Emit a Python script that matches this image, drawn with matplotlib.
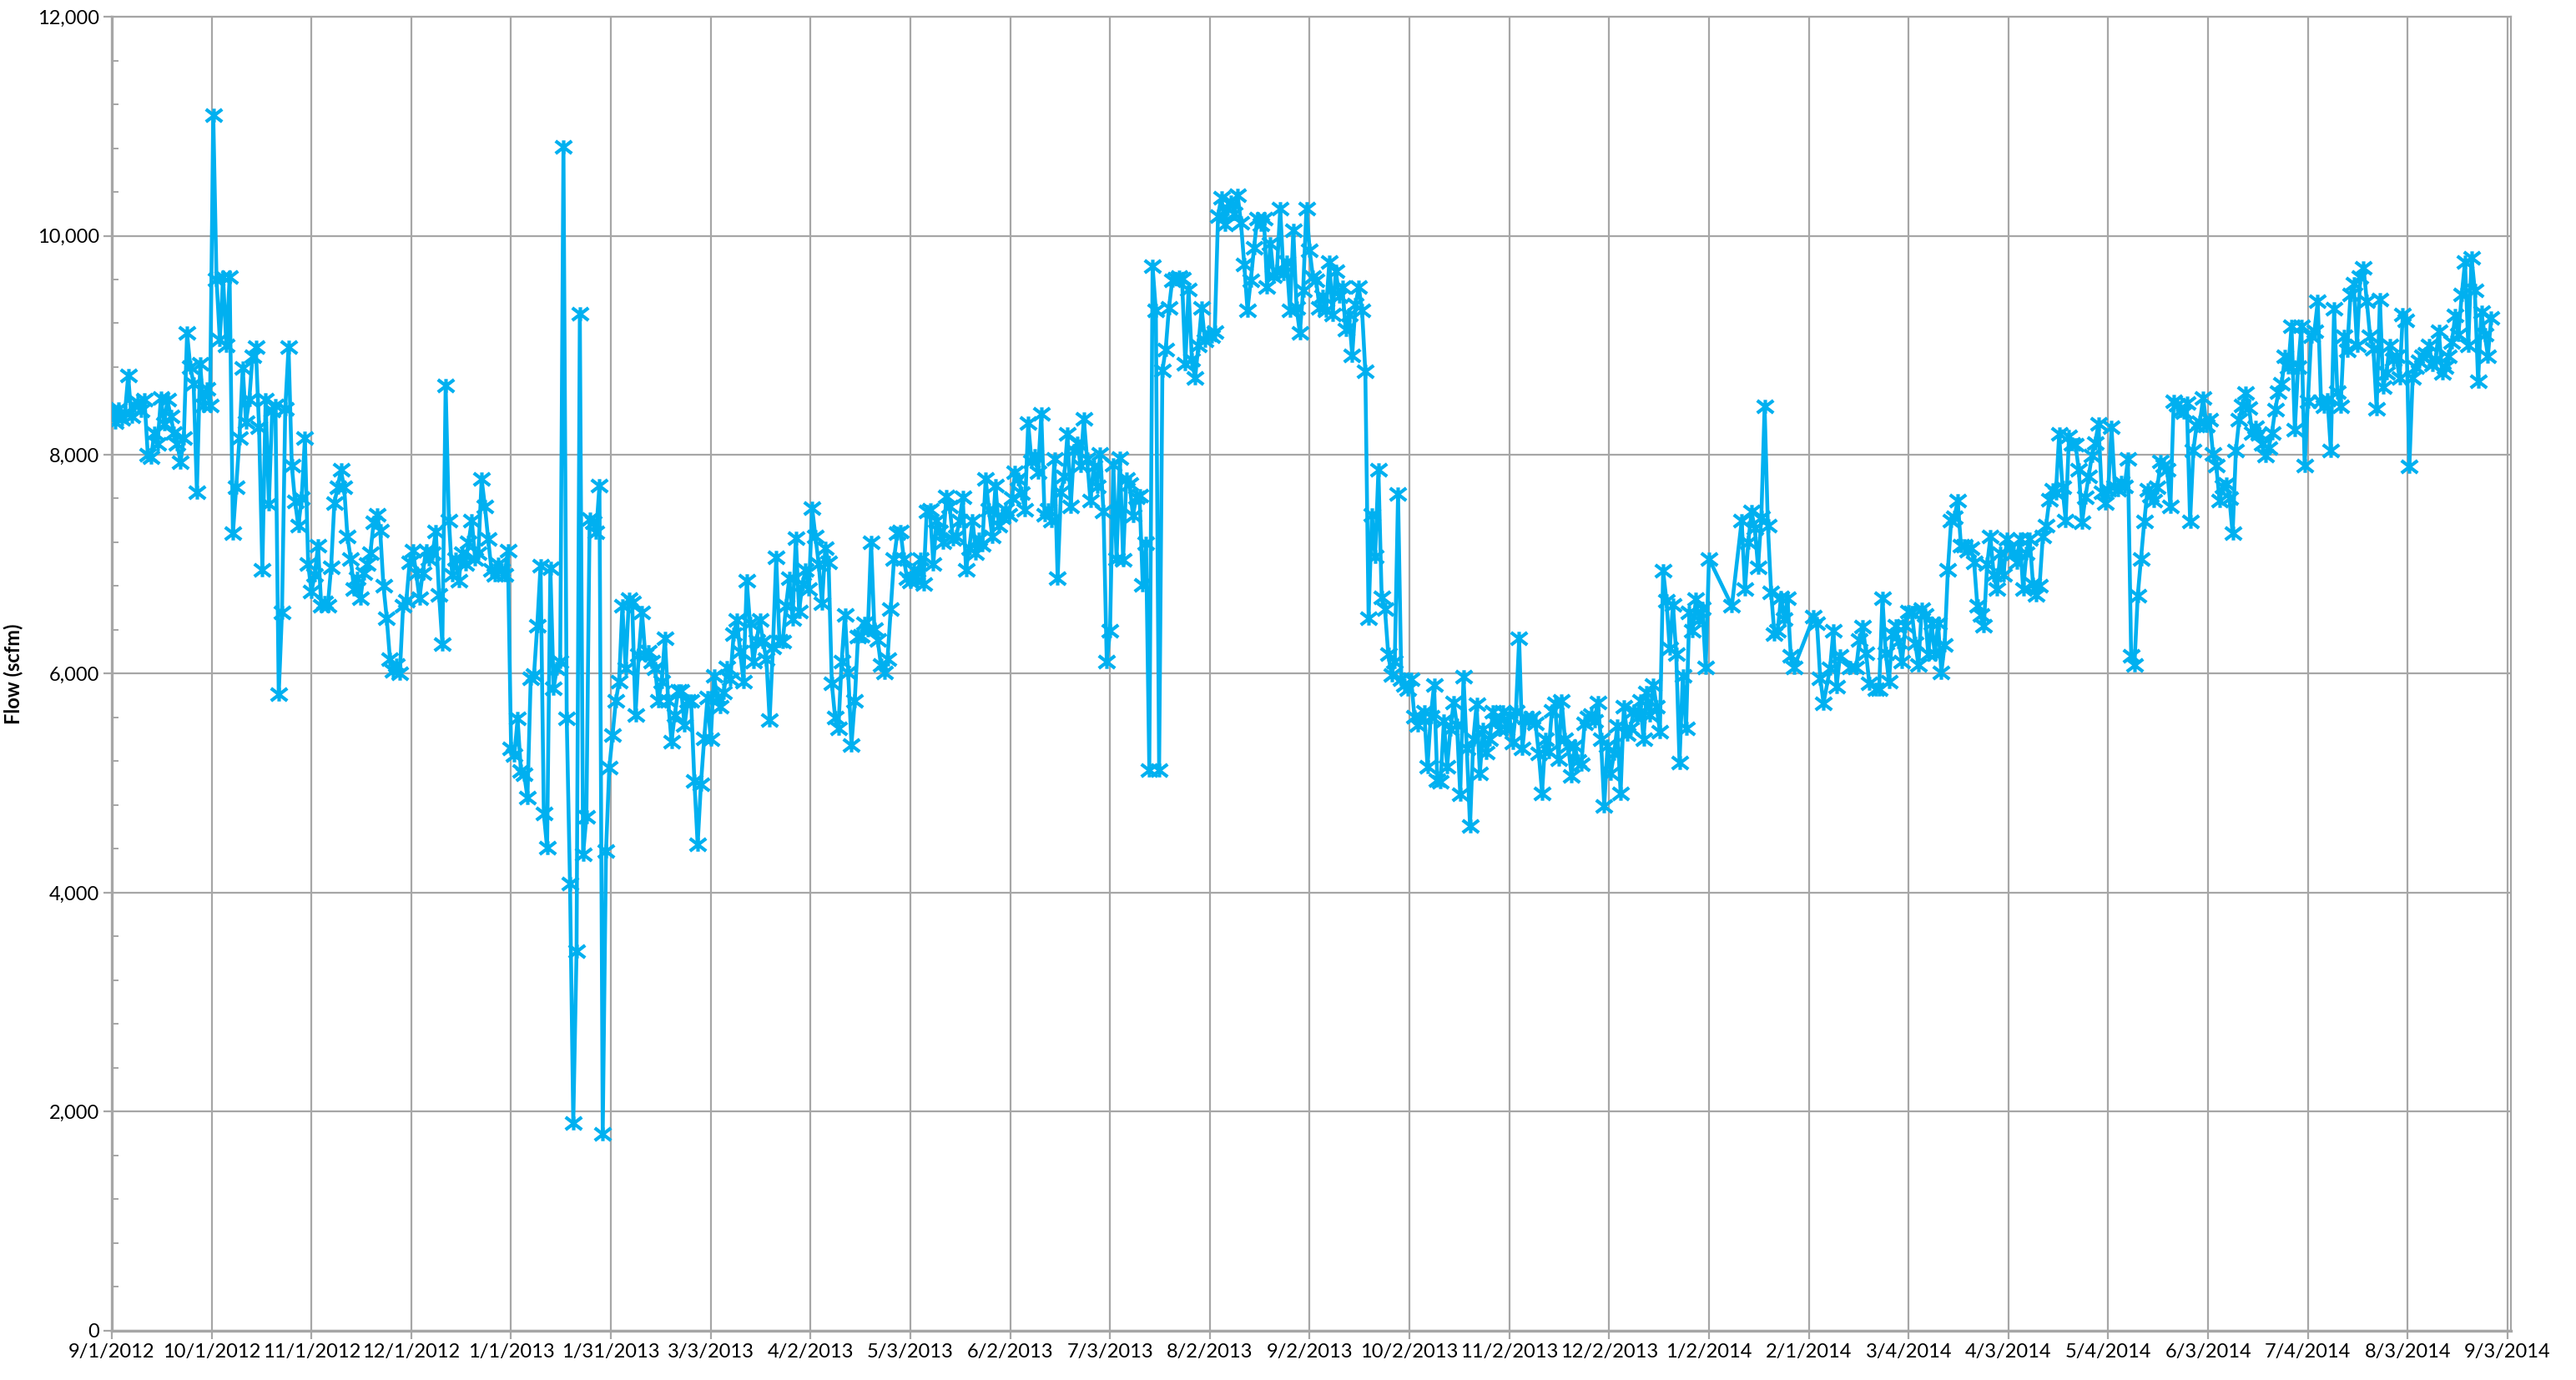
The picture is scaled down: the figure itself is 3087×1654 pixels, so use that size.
import numpy as np
import pandas as pd
import matplotlib
matplotlib.use("Agg")
import matplotlib.pyplot as plt
import matplotlib.dates as mdates
from matplotlib.path import Path
from matplotlib.ticker import FuncFormatter, MultipleLocator

# daily flow readings (scfm), one list per month, None = no reading
sep12 = [8400, 8300, 8420, 8330, 8380, 8720, 8350, 8450, 8480, 8400, 8500, 8000, 7980, 8200, 8100,
         8520, 8280, 8500, 8350, 8200, 8100, 7930, 8150, 9110, 8800, 8650, 7660, 8830, 8450, 8600]
oct12 = [8450, 11100, 9600, 9050, 9620, 9000, 9620, 7280, 7700, 8150, 8790, 8300, 8500, 8900, 8980,
         8250, 6950, 8500, 7550, 8400, 8450, 5810, 6560, 8420, 8980, 7900, 7570, 7350, 7600, 8150, 7000]
nov12 = [6750, 6900, 7170, 6620, 6650, 6620, 6970, 7560, 7700, 7860, 7700, 7250, 7050, 6770, 6870,
         6690, 6920, 7000, 7100, 7380, 7450, 7310, 6800, 6510, 6130, 6030, 6080, 6000, 6620, 6670]
dec12 = [7020, 7120, 6920, 6690, 6920, 7120, 7050, 7100, 7300, 6720, 6270, 8630, 7400, 6900, 7050,
         6850, 7100, 7000, 7200, 7400, 7050, 7100, 7780, 7530, 7230, 6950, 6900, 7000, 6950, 6900, 7120]
jan13 = [5320, 5260, 5590, 5110, 5080, 4870, 5960, 5990, 6440, 6990, 4720, 4410, 6960, 5870, 6050,
         6110, 10810, 5590, 4080, 1900, 3470, 9290, 4350, 4690, 7410, 7380, 7290, 7720, 1800, 4380, 5140]
feb13 = [5440, 5750, 5930, 6620, 6050, 6680, 6650, 5620, 6170, 6560, 6170, 6200, 6110, 6050, 5750,
         5930, 6320, 5750, 5380, 5620, 5840, 5840, 5530, 5750, 5750, 5020, 4440, 4990]
mar13 = [5410, 5780, 5400, 5980, 5780, 5700, 5830, 6060, 5950, 6360, 6490, 6200, 5930, 6850, 6460,
         6110, 6300, 6490, 6290, 6130, 5580, 6240, 7060, 6300, 6290, 6620, 6870, 6500, 7240, 6570, 6820]
apr13 = [6950, 6770, 7510, 7250, 7000, 6640, 7150, 7020, 5910, 5600, 5500, 6110, 6540, 6010, 5350,
         5750, 6340, 6350, 6460, 6400, 7200, 6410, 6310, 6080, 6010, 6130, 6590, 7050, 7280, 7300]
may13 = [7050, 6870, 6840, 6950, 6850, 7050, 6820, 7480, 7500, 7000, 7400, 7300, 7200, 7620, 7530,
         7230, 7250, 7400, 7610, 6950, 7150, 7400, 7100, 7230, 7180, 7780, 7500, 7250, 7720, 7350, 7430]
jun13 = [7500, 7450, 7600, 7840, 7780, 7650, 7500, 8290, 7940, 7990, 7840, 8370, 7450, 7500, 7400,
         7960, 6870, 7660, 7800, 8190, 7530, 8040, 8110, 7900, 8330, 7960, 7580, 7890, 7710, 8010]
jul13 = [7480, 6110, 6390, 7910, 7050, 7970, 7040, 7780, 7730, 7440, 7610, 7630, 6810, 7190, 5120,
         9720, 9320, 5120, 8770, 8960, 9340, 9590, 9610, 9620, 9610, 8830, 9510, 8870, 8700, 9000, 9340]
aug13 = [9040, 9100, 9080, 9120, 10180, 10350, 10100, 10250, 10310, 10200, 10370, 10120, 9740, 9320, 9590,
         9890, 10160, 10100, 10160, 9530, 9930, 9630, 9680, 10250, 9650, 9760, 9320, 10050, 9340, 9110, 9500]
sep13 = [10250, 9870, 9620, 9590, 9340, 9450, 9320, 9760, 9280, 9680, 9450, 9530, 9140, 9280, 8910,
         9370, 9530, 9320, 8760, 6510, 7450, 7070, 7860, 6700, 6590, 6180, 5990, 6110, 7640, 5950]
oct13 = [5900, 5860, 5950, 5610, 5530, 5600, 5650, 5150, 5610, 5900, 5030, 5010, 5570, 5150, 5490,
         5740, 5530, 4900, 5970, 5320, 4610, 5400, 5720, 5090, 5490, 5280, 5400, 5650, 5560, 5490, 5650]
nov13 = [5490, 5620, 5370, 5650, 6320, 5320, 5600, 5570, 5600, 5550, 5270, 4910, 5400, 5290, 5660,
         5730, 5220, 5750, 5400, 5340, 5070, 5340, 5200, 5170, 5550, 5600, 5620, 5570, 5740, 5400]
dec13 = [4790, 5340, 5090, 5270, 5520, 4910, 5700, 5450, 5500, 5660, 5600, 5750, 5400, 5830, 5620,
         5900, 5700, 5470, 6940, 6670, 6230, 6630, 6180, 5190, 5980, 5500, 6560, 6390, 6680, 6490, 6600]
jan14 = [6060, 7050, None, None, None, None, None, None, 6620, None, None, 7400, 6770, 7200, 7480,
         7330, 6970, 7430, 8440, 7350, 6740, 6360, 6390, 6700, 6500, 6690, 6160, 6060, None, None, None]
feb14 = [None, None, 6520, 6460, 5960, 5730, None, 6050, 6390, 5880, 6160, None, None, 6060, None,
         6060, 6310, 6430, 6190, 5910, None, 5860, 5860, 6690, 6190, 5930, 6360, 6440]
mar14 = [6290, 6110, 6440, 6570, 6560, 6280, 6080, 6590, 6540, 6180, 6460, 6180, 6460, 6010, 6260,
         6950, 7400, 7430, 7580, 7170, 7170, 7120, 7150, 7020, 6620, 6540, 6440, 7000, 7250, 6900, 6770]
apr14 = [7100, 6900, 7230, 7150, 7100, 7020, 7230, 6770, 7100, 7230, 6820, 6720, 6800, 7250, 7350,
         7590, 7680, 7650, 8190, 7700, 7400, 8170, 8100, 8090, 7860, 7380, 7610, 7800, 7990, 8110]
may14 = [8280, 7660, 7560, 7680, 8250, 7710, 7680, 7750, 7710, 7960, 6160, 6080, 6710, 7050, 7390,
         7680, 7630, 7580, 7700, 7940, 7900, 7860, 7530, 8490, 8460, 8400, 8390, 8470, 7390, 8040, 8270]
jun14 = [8300, 8520, 8270, 8320, 8010, 7900, 7580, 7710, 7730, 7600, 7280, 8040, 8320, 8450, 8560,
         8430, 8200, 8250, 8190, 8100, 7990, 8060, 8200, 8410, 8570, 8650, 8900, 8800, 9170, 8230]
jul14 = [8800, 9170, 7900, 8490, 9080, 9130, 9400, 8490, 8440, 8500, 8040, 9330, 8570, 8440, 9080,
         8950, 9460, 9560, 9000, 9620, 9710, 9400, 9080, 8970, 8420, 9420, 8620, 8750, 9000, 8870, 8900]
aug14 = [8700, 9280, 9230, 7890, 8700, 8800, 8850, 8900, 8920, 9000, 8820, 8870, 9130, 8750, 8800,
         8900, 9030, 9270, 9100, 9460, 9760, 9000, 9800, 9500, 8670, 9300, 9100, 8900, 9250]

months = [("2012-09-01", sep12), ("2012-10-01", oct12), ("2012-11-01", nov12), ("2012-12-01", dec12),
          ("2013-01-01", jan13), ("2013-02-01", feb13), ("2013-03-01", mar13), ("2013-04-01", apr13),
          ("2013-05-01", may13), ("2013-06-01", jun13), ("2013-07-01", jul13), ("2013-08-01", aug13),
          ("2013-09-01", sep13), ("2013-10-01", oct13), ("2013-11-01", nov13), ("2013-12-01", dec13),
          ("2014-01-01", jan14), ("2014-02-01", feb14), ("2014-03-01", mar14), ("2014-04-01", apr14),
          ("2014-05-01", may14), ("2014-06-01", jun14), ("2014-07-01", jul14), ("2014-08-01", aug14)]

parts = []
for start, vals in months:
    idx = pd.date_range(start, periods=len(vals), freq="D")
    parts.append(pd.Series(vals, index=idx, dtype=float))
flow = pd.concat(parts).dropna()

plt.rcParams["font.family"] = ["Lato", "DejaVu Sans"]

# Excel-style "star" marker: a wide X with a vertical stroke
star = Path([(-1.3, -1), (1.3, 1), (-1.3, 1), (1.3, -1), (0, -1.1), (0, 1.1)],
            [Path.MOVETO, Path.LINETO] * 3)

fig = plt.figure(figsize=(30.87, 16.54), dpi=100)
ax = fig.add_axes([0.0434, 0.0357, 0.9313, 0.9522])

blue = "#00B0F0"
ax.plot(flow.index, flow.values, color=blue, lw=3.3, marker=star, ms=14,
        mec=blue, mew=3.0, zorder=3)

# date axis: Excel major unit of 30.5 days from 9/1/2012
x0 = mdates.date2num(pd.Timestamp("2012-09-01"))
ticks = [x0 + 30.5 * k for k in range(25)]
ax.set_xlim(x0, x0 + 733)
ax.set_xticks(ticks)


def date_label(v, pos=None):
    d = mdates.num2date(np.floor(v))
    return f"{d.month}/{d.day}/{d.year}"


ax.xaxis.set_major_formatter(FuncFormatter(date_label))

ax.set_ylim(0, 12000)
ax.yaxis.set_major_locator(MultipleLocator(2000))
ax.yaxis.set_minor_locator(MultipleLocator(400))
ax.yaxis.set_major_formatter(FuncFormatter(lambda v, p: f"{int(v):,}"))

grid_c = "#A6A6A6"
ax.grid(True, which="major", color=grid_c, lw=1.6, zorder=0)
ax.set_axisbelow(True)
for s in ax.spines.values():
    s.set_color(grid_c)
    s.set_linewidth(1.6)
ax.spines["left"].set_linewidth(2.4)
ax.spines["bottom"].set_linewidth(2.4)

ax.tick_params(axis="both", which="major", labelsize=17, color=grid_c, length=7, width=1.6,
               direction="out", pad=4)
ax.tick_params(axis="y", which="minor", color=grid_c, length=6, width=1.4, direction="in")

ax.set_ylabel("Flow (scfm)", fontsize=17, fontweight="bold", labelpad=12)

fig.savefig("out.png", dpi=100)
